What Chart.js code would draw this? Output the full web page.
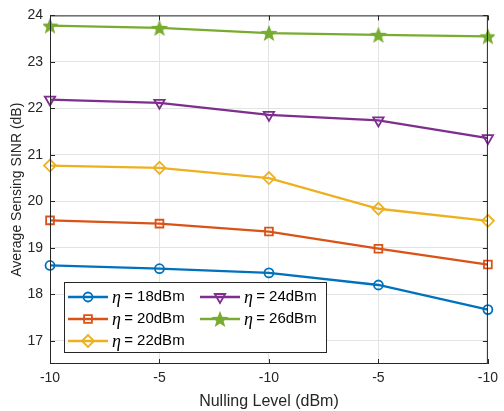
<!DOCTYPE html>
<html>
<head>
<meta charset="utf-8">
<script src="https://cdn.jsdelivr.net/npm/chart.js@4/dist/chart.umd.min.js"></script>
<style>
  html, body { margin: 0; padding: 0; background: #fff; }
  #wrap { width: 504px; height: 411px; }
</style>
</head>
<body>
<div id="wrap"><canvas id="sinrChart" width="504" height="411"></canvas></div>
<script>
// nulling level ticks and SINR results per transmit power
const xLabels = ['-10', '-5', '-10', '-5', '-10'];
const yTicks = [17, 18, 19, 20, 21, 22, 23, 24];
const eta18 = [18.62, 18.55, 18.46, 18.20, 17.67];
const eta20 = [19.59, 19.52, 19.35, 18.98, 18.64];
const eta22 = [20.77, 20.72, 20.50, 19.84, 19.58];
const eta24 = [22.19, 22.12, 21.86, 21.74, 21.36];
const eta26 = [23.78, 23.73, 23.62, 23.58, 23.55];
const powers = ['18', '20', '22', '24', '26'];

const FONT = 'Liberation Sans, Arial, sans-serif';
const AXIS = '#262626';

// filled pentagram used as marker for the 26 dBm curve
function makeStar(color, r) {
    const c = document.createElement('canvas');
    const s = Math.ceil(r * 2 + 2);
    c.width = s; c.height = s;
    const g = c.getContext('2d');
    const cx = s / 2, cy = s / 2 + 0.8;
    g.beginPath();
    for (let i = 0; i < 10; i++) {
        const rad = i % 2 === 0 ? r : r * 0.42;
        const a = -Math.PI / 2 + i * Math.PI / 5;
        g.lineTo(cx + rad * Math.cos(a), cy + rad * Math.sin(a));
    }
    g.closePath();
    g.fillStyle = color;
    g.fill();
    return c;
}

const starImg = makeStar('#77AC30', 9);

function series(data, color, style, extra) {
    return Object.assign({
        data: data,
        borderColor: color,
        backgroundColor: color,
        borderWidth: 2.3,
        pointStyle: style,
        pointRadius: 5,
        pointBorderWidth: 1.8,
        pointBorderColor: color,
        pointBackgroundColor: 'rgba(255,255,255,0)',
        tension: 0
    }, extra || {});
}

const datasets = [
    series(eta18, '#0072BD', 'circle', { pointRadius: 4.5 }),
    series(eta20, '#D95319', 'rect', { pointRadius: 5.5 }),
    series(eta22, '#EDB120', 'rectRot', { pointRadius: 6 }),
    series(eta24, '#7E2F8E', 'triangle', { pointRotation: 180, pointRadius: 6 }),
    series(eta26, '#77AC30', starImg)
];
datasets.forEach((d, i) => d.label = 'η = ' + powers[i] + 'dBm');

// box around the axes with inward ticks, MATLAB style
const frame = {
    id: 'frame',
    afterDatasetsDraw(chart) {
        const { ctx, chartArea: a, scales } = chart;
        ctx.save();
        ctx.strokeStyle = AXIS;
        ctx.lineWidth = 1;
        ctx.strokeRect(a.left + 0.5, a.top + 0.5, a.right - a.left - 1, a.bottom - a.top - 1);
        ctx.beginPath();
        yTicks.forEach(v => {
            const y = Math.round(scales.y.getPixelForValue(v)) + 0.5;
            ctx.moveTo(a.left, y); ctx.lineTo(a.left + 5, y);
            ctx.moveTo(a.right, y); ctx.lineTo(a.right - 5, y);
        });
        xLabels.forEach((l, i) => {
            const x = Math.round(scales.x.getPixelForValue(i)) + 0.5;
            ctx.moveTo(x, a.bottom); ctx.lineTo(x, a.bottom - 5);
            ctx.moveTo(x, a.top); ctx.lineTo(x, a.top + 5);
        });
        ctx.stroke();
        ctx.restore();
    }
};

// two-column legend box in the lower left of the plot
const legendBox = {
    id: 'legendBox',
    afterDraw(chart) {
        const ctx = chart.ctx;
        const a = chart.chartArea;
        const bx = a.left + 14, by = 282, bw = 262, bh = 70;
        ctx.save();
        ctx.fillStyle = '#fff';
        ctx.fillRect(bx, by, bw, bh);
        ctx.strokeStyle = AXIS;
        ctx.lineWidth = 1;
        ctx.strokeRect(bx + 0.5, by + 0.5, bw, bh);
        const rows = [297, 319, 341];
        const cols = [68, 200];
        chart.data.datasets.forEach((ds, i) => {
            const col = i < 3 ? 0 : 1;
            const row = i < 3 ? i : i - 3;
            const x0 = cols[col], y = rows[row];
            ctx.strokeStyle = ds.borderColor;
            ctx.lineWidth = ds.borderWidth;
            ctx.beginPath();
            ctx.moveTo(x0, y); ctx.lineTo(x0 + 40, y);
            ctx.stroke();
            ctx.fillStyle = 'rgba(255,255,255,0)';
            ctx.lineWidth = ds.pointBorderWidth;
            Chart.helpers.drawPoint(ctx, {
                pointStyle: ds.pointStyle,
                rotation: ds.pointRotation || 0,
                radius: ds.pointRadius,
                borderWidth: ds.pointBorderWidth
            }, x0 + 20, y);
            ctx.fillStyle = '#000';
            ctx.textBaseline = 'middle';
            ctx.font = 'italic 18px "Liberation Serif", serif';
            ctx.fillText('η', x0 + 44, y + 1);
            ctx.font = '15px ' + FONT;
            ctx.fillText(' = ' + powers[i] + 'dBm', x0 + 52, y);
        });
        ctx.restore();
    }
};

new Chart(document.getElementById('sinrChart').getContext('2d'), {
    type: 'line',
    data: { labels: xLabels, datasets: datasets },
    options: {
        responsive: false,
        animation: false,
        layout: { padding: { top: 13, right: 11, left: 0, bottom: 0 } },
        plugins: {
            legend: { display: false },
            tooltip: { enabled: false }
        },
        scales: {
            x: {
                type: 'category',
                offset: false,
                afterFit: s => { s.height = 47; },
                grid: { color: '#e3e3e3', drawTicks: false, drawOnChartArea: true },
                border: { display: false },
                ticks: { color: AXIS, font: { family: FONT, size: 14 }, padding: 6, maxRotation: 0, autoSkip: false },
                title: { display: true, text: 'Nulling Level (dBm)', color: AXIS, font: { family: FONT, size: 16 }, padding: { top: 2, bottom: 0 } }
            },
            y: {
                min: 16.5,
                max: 24,
                afterFit: s => { s.width = 50; },
                afterBuildTicks: s => { s.ticks = yTicks.map(v => ({ value: v })); },
                grid: { color: '#e3e3e3', drawTicks: false },
                border: { display: false },
                ticks: { color: AXIS, font: { family: FONT, size: 14 }, padding: 7 },
                title: { display: true, text: 'Average Sensing SINR (dB)', color: AXIS, font: { family: FONT, size: 14 }, padding: { top: 9, bottom: 0 } }
            }
        }
    },
    plugins: [frame, legendBox]
});
</script>
</body>
</html>
